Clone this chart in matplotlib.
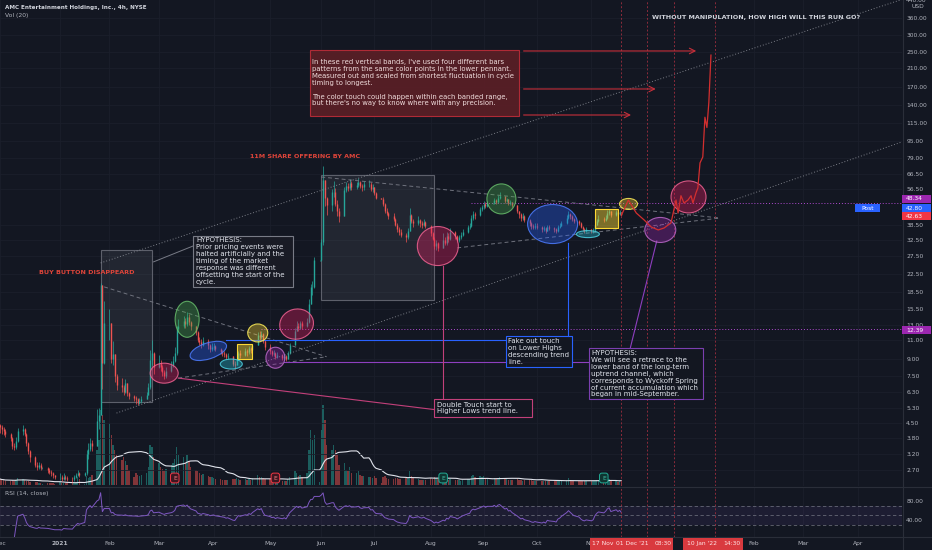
import numpy as np
import pandas as pd
import matplotlib
matplotlib.use("Agg")
import matplotlib.pyplot as plt
import matplotlib.dates as mdates
from matplotlib.patches import Ellipse, Rectangle
from matplotlib.lines import Line2D
from matplotlib.ticker import FixedLocator, NullLocator, FuncFormatter
from matplotlib.transforms import ScaledTranslation

plt.rcParams['font.family'] = ['DejaVu Sans']

# ---------------------------------------------------------------- data
TITLE = "AMC Entertainment Holdings, Inc., 4h, NYSE"
MONTHS = ['2020-12', '2021-01', '2021-02', '2021-03', '2021-04', '2021-05',
          '2021-06', '2021-07', '2021-08', '2021-09', '2021-10', '2021-11']
LAST_DAY = '2021-11-18'
FIRST_OPEN = 4.4

close_2020_12 = [4.3, 4.2, 4.1, 4.0, 3.8, 3.5, 3.45, 3.7, 4.1, 4.2, 4.0, 3.6, 3.3, 3.1, 2.85, 2.8, 2.85, 2.75, 2.75, 2.7, 2.65, 2.6, 2.55]
high_2020_12 = [4.45, 4.4, 4.3, 4.2, 4.05, 3.85, 3.6, 3.85, 4.25, 4.4, 4.25, 4.05, 3.65, 3.35, 3.15, 2.95, 2.95, 2.9, 2.78, 2.8, 2.75, 2.7, 2.65]
low_2020_12 = [4.05, 4.0, 3.95, 3.85, 3.7, 3.4, 3.35, 3.4, 3.65, 3.95, 3.9, 3.5, 3.2, 2.95, 2.8, 2.7, 2.72, 2.7, 2.72, 2.62, 2.58, 2.52, 2.48]
vol_2020_12 = [6, 5, 5, 4, 4, 5, 4, 5, 7, 6, 5, 4, 4, 3, 3, 3, 2, 2, 1, 2, 2, 2, 2]

close_2021_01 = [2.5, 2.5, 2.45, 2.5, 2.48, 2.46, 2.44, 2.5, 2.55, 2.6, 2.55, 2.6, 3.2, 3.4, 3.6, 3.5, 4.6, 4.9, 19.9, 8.6, 13.3]
high_2021_01 = [2.56, 2.6, 2.55, 2.6, 2.55, 2.52, 2.5, 2.55, 2.62, 2.7, 2.65, 2.65, 3.35, 3.6, 3.8, 3.75, 5.2, 5.3, 20.4, 16.5, 16.8]
low_2021_01 = [2.45, 2.42, 2.4, 2.42, 2.42, 2.4, 2.38, 2.4, 2.48, 2.52, 2.5, 2.52, 2.55, 3.05, 3.3, 3.3, 3.5, 4.2, 5.0, 6.5, 8.5]
vol_2021_01 = [1, 3, 2, 2, 2, 2, 2, 2, 3, 8, 6, 1, 9, 7, 8, 10, 35, 45, 75, 70, 65]

close_2021_02 = [13.3, 9.0, 9.5, 7.5, 6.8, 6.6, 6.3, 6.9, 6.2, 6.0, 5.9, 5.8, 5.6, 5.7, 5.8, 6.1, 6.6, 8.9, 9.6, 8.2]
high_2021_02 = [15.5, 13.0, 10.9, 9.2, 7.6, 7.3, 6.8, 7.2, 6.9, 6.3, 6.1, 6.0, 5.9, 5.9, 6.0, 6.3, 6.9, 9.9, 11.0, 9.7]
low_2021_02 = [11.0, 8.6, 8.4, 7.0, 6.4, 6.3, 6.1, 6.2, 6.0, 5.8, 5.7, 5.5, 5.45, 5.5, 5.6, 5.8, 6.1, 6.5, 8.4, 7.6]
vol_2021_02 = [62, 50, 40, 35, 30, 25, 28, 24, 20, 15, 8, 12, 10, 9, 10, 12, 18, 40, 38, 28]

close_2021_03 = [8.6, 8.2, 7.8, 7.5, 7.9, 8.4, 8.8, 9.6, 12.4, 12.9, 13.6, 13.1, 14.2, 13.4, 12.8, 12.0, 11.0, 10.8, 10.5, 10.9, 10.4, 10.0, 10.2]
high_2021_03 = [9.4, 8.9, 8.4, 8.0, 8.2, 8.8, 9.3, 10.2, 12.9, 13.8, 14.3, 14.0, 14.9, 14.6, 13.6, 12.9, 12.2, 11.4, 11.2, 11.4, 11.1, 10.6, 10.7]
low_2021_03 = [8.1, 7.9, 7.5, 7.2, 7.3, 7.8, 8.2, 8.7, 9.4, 12.0, 12.6, 12.6, 12.8, 13.0, 12.3, 11.7, 10.8, 10.4, 10.1, 10.3, 10.0, 9.7, 9.8]
vol_2021_03 = [22, 18, 16, 14, 16, 20, 22, 26, 38, 30, 28, 22, 30, 24, 18, 15, 14, 12, 10, 11, 9, 8, 8]

close_2021_04 = [10.3, 10.0, 9.7, 9.6, 9.5, 9.2, 9.3, 8.5, 8.4, 9.0, 9.6, 9.4, 9.8, 9.7, 10.1, 9.9, 10.4, 11.6, 11.4, 11.8, 10.9, 10.2]
high_2021_04 = [10.7, 10.4, 10.1, 9.9, 9.8, 9.6, 9.6, 9.3, 8.8, 9.2, 9.8, 9.9, 10.1, 10.0, 10.3, 10.2, 10.6, 12.0, 12.1, 12.2, 11.9, 11.0]
low_2021_04 = [9.9, 9.8, 9.5, 9.3, 9.2, 9.0, 9.0, 8.3, 8.1, 8.4, 8.9, 9.1, 9.3, 9.3, 9.5, 9.6, 9.8, 10.4, 11.0, 11.2, 10.7, 9.9]
vol_2021_04 = [7, 6, 6, 5, 5, 5, 5, 6, 6, 7, 6, 5, 6, 5, 6, 5, 7, 10, 8, 8, 7, 6]

close_2021_05 = [9.8, 9.5, 9.6, 9.2, 9.4, 9.1, 9.3, 9.0, 9.6, 10.4, 12.2, 12.9, 12.6, 13.2, 12.8, 13.4, 16.2, 19.5, 19.6, 26.1, 26.1]
high_2021_05 = [10.6, 9.9, 9.9, 9.7, 9.7, 9.5, 9.5, 9.4, 9.8, 10.7, 12.6, 13.5, 13.2, 13.6, 13.6, 14.0, 17.2, 20.2, 21.0, 27.2, 26.3]
low_2021_05 = [9.5, 9.3, 9.3, 9.0, 9.1, 8.9, 8.9, 8.8, 9.0, 9.5, 10.4, 12.1, 12.2, 12.4, 12.4, 12.7, 13.3, 16.2, 18.0, 19.4, 25.9]
vol_2021_05 = [6, 5, 5, 5, 5, 4, 4, 4, 6, 8, 14, 12, 9, 10, 8, 12, 35, 55, 45, 50, 3]

close_2021_06 = [32.0, 62.5, 51.3, 47.5, 55.0, 55.0, 48.0, 44.5, 42.0, 56.0, 58.5, 57.0, 60.5, 58.0, 59.0, 61.0, 58.5, 57.5, 59.5, 60.0, 56.5, 57.5]
high_2021_06 = [33.0, 72.6, 62.0, 52.0, 56.5, 61.5, 57.0, 50.0, 46.0, 57.5, 61.0, 60.5, 63.0, 61.5, 61.0, 63.5, 62.0, 60.0, 61.5, 62.5, 61.0, 59.5]
low_2021_06 = [26.0, 31.0, 47.0, 42.5, 44.5, 52.0, 47.0, 42.0, 39.5, 42.5, 54.5, 55.5, 56.0, 56.0, 56.5, 58.0, 57.0, 55.5, 56.0, 57.5, 55.5, 55.0]
vol_2021_06 = [55, 80, 65, 40, 35, 40, 35, 30, 20, 22, 15, 14, 18, 12, 12, 14, 10, 9, 9, 8, 8, 7]

close_2021_07 = [54.0, 51.5, 51.0, 48.0, 44.5, 43.5, 42.0, 41.0, 38.5, 36.5, 35.5, 34.5, 33.5, 36.0, 42.5, 40.0, 39.0, 40.5, 39.0, 38.5, 39.5, 38.0]
high_2021_07 = [58.0, 55.0, 51.5, 52.0, 48.5, 46.0, 44.0, 43.5, 41.5, 39.0, 37.5, 36.5, 35.0, 37.0, 46.0, 43.0, 41.0, 42.0, 41.0, 40.0, 41.0, 40.0]
low_2021_07 = [53.0, 50.5, 50.5, 47.0, 43.5, 42.5, 41.0, 40.0, 38.0, 35.5, 34.5, 33.5, 32.0, 33.0, 36.0, 39.0, 37.5, 38.5, 37.5, 37.0, 38.0, 37.0]
vol_2021_07 = [9, 7, 2, 8, 9, 7, 6, 6, 7, 7, 6, 6, 7, 8, 14, 9, 7, 6, 5, 5, 5, 5]

close_2021_08 = [35.0, 33.0, 30.5, 31.5, 30.0, 32.5, 31.5, 34.0, 33.0, 35.5, 34.0, 32.5, 33.5, 34.5, 35.5, 37.5, 38.0, 41.5, 43.0, 42.5, 45.5, 46.5]
high_2021_08 = [38.5, 35.5, 33.5, 32.5, 32.0, 35.0, 33.5, 35.5, 35.0, 37.0, 36.0, 34.5, 34.5, 35.5, 36.5, 38.5, 39.0, 42.5, 44.5, 44.0, 46.5, 47.5]
low_2021_08 = [34.0, 32.5, 29.5, 29.2, 29.0, 29.8, 30.8, 31.0, 32.0, 32.5, 33.0, 31.8, 32.0, 33.0, 34.0, 35.0, 36.5, 37.5, 40.5, 41.0, 42.0, 44.5]
vol_2021_08 = [7, 6, 8, 7, 6, 8, 6, 6, 5, 6, 5, 5, 5, 4, 5, 6, 6, 9, 10, 8, 9, 8]

close_2021_09 = [48.0, 47.0, 48.5, 48.5, 50.0, 49.0, 51.5, 52.5, 49.5, 50.5, 48.5, 49.0, 47.5, 44.5, 43.0, 41.5, 42.0, 40.5, 39.0, 38.0, 37.5, 38.0]
high_2021_09 = [49.5, 49.0, 49.5, 48.8, 51.5, 50.5, 53.0, 54.5, 52.5, 51.5, 50.5, 50.0, 49.0, 46.0, 44.5, 43.5, 43.5, 42.5, 41.0, 39.5, 38.8, 39.0]
low_2021_09 = [45.5, 46.0, 46.5, 48.2, 48.0, 48.0, 48.5, 50.5, 48.5, 49.0, 47.5, 47.5, 46.5, 43.5, 41.5, 40.0, 40.5, 39.5, 38.0, 36.8, 36.5, 36.8]
vol_2021_09 = [9, 6, 6, 1, 7, 6, 7, 8, 7, 6, 5, 5, 5, 6, 5, 5, 4, 5, 5, 5, 4, 4]

close_2021_10 = [37.5, 36.5, 37.0, 36.0, 37.5, 37.0, 36.5, 36.0, 37.5, 38.0, 39.0, 41.5, 43.0, 42.0, 41.0, 40.0, 39.0, 37.5, 36.5, 36.0, 36.5]
high_2021_10 = [39.0, 38.0, 38.0, 37.5, 38.5, 38.5, 37.5, 37.0, 38.5, 39.0, 40.0, 42.5, 44.5, 43.5, 42.5, 41.5, 40.5, 39.5, 38.0, 37.0, 37.5]
low_2021_10 = [36.5, 35.5, 35.8, 35.2, 35.8, 36.2, 35.5, 35.0, 35.5, 37.0, 37.8, 38.8, 41.0, 40.8, 40.0, 39.0, 38.2, 37.0, 35.8, 35.3, 35.5]
vol_2021_10 = [4, 4, 4, 4, 4, 4, 4, 4, 4, 4, 4, 5, 7, 5, 4, 4, 4, 4, 4, 4, 4]

close_2021_11 = [35.8, 36.3, 38.5, 40.0, 41.0, 40.5, 41.5, 43.5, 44.5, 42.5, 44.0, 43.0, 44.0, 42.63]
high_2021_11 = [36.8, 37.0, 39.0, 41.0, 42.5, 41.8, 42.5, 45.0, 45.5, 44.8, 45.0, 44.5, 45.0, 44.3]
low_2021_11 = [35.0, 35.3, 36.0, 38.2, 39.5, 39.5, 40.0, 41.0, 42.8, 41.8, 42.0, 42.2, 42.5, 42.2]
vol_2021_11 = [4, 4, 4, 5, 5, 4, 4, 6, 6, 4, 4, 3, 4, 4]

# axis labels
PRICE_TICKS = [360, 300, 250, 210, 170, 140, 115, 95, 79, 66.5, 56.5, 38.5, 32.5,
               27.5, 22.5, 18.5, 15.5, 13, 11, 9, 7.5, 6.3, 5.3, 4.5, 3.8, 3.2, 2.7]
TIME_TICKS = ['2020-12-01', '2021-01-04', '2021-02-01', '2021-03-01', '2021-04-01',
              '2021-05-03', '2021-06-01', '2021-07-01', '2021-08-02', '2021-09-01',
              '2021-10-01', '2021-11-01', '2022-02-01', '2022-03-01', '2022-04-01']
TIME_LABELS = ['Dec', '2021', 'Feb', 'Mar', 'Apr', 'May', 'Jun', 'Jul', 'Aug', 'Sep',
               'Oct', 'Nov', 'Feb', 'Mar', 'Apr']
RSI_TICKS = [80, 40]
EARNINGS = [('2021-03-10', 'r'), ('2021-05-06', 'r'), ('2021-08-09', 'g'), ('2021-11-08', 'g')]

# drawings (date, price)
CHANNEL_UPPER = [('2021-01-27', 25.4), ('2022-05-11', 484)]
CHANNEL_LOWER = [('2021-02-05', 5.0), ('2022-05-11', 104)]
PENNANT1_HIGHS = [('2021-01-29', 19.6), ('2021-06-04', 9.2)]
PENNANT1_LOWS = [('2021-03-12', 7.3), ('2021-06-04', 9.2)]
PENNANT2_HIGHS = [('2021-06-01', 64.4), ('2022-01-13', 41.3)]
PENNANT2_LOWS = [('2021-08-17', 29.9), ('2022-01-13', 41.3)]
LEVEL_A = ('2021-08-25', 48.34)
LEVEL_B = ('2021-04-28', 12.39)
BLUE_LINKS = [[('2021-04-08', 11.0), ('2021-09-14', 11.0)],
              [('2021-10-19', 31.5), ('2021-10-19', 11.4)]]
PURPLE_LINKS = [[('2021-05-11', 8.7), ('2021-10-31', 8.7)],
                [('2021-11-23', 10.1), ('2021-12-08', 32.2)]]
PINK_LINKS = [[('2021-08-09', 24.6), ('2021-08-09', 5.83)],
              [('2021-03-12', 7.3), ('2021-08-05', 5.18)]]
GREY_LINK = [('2021-02-26', 25.7), ('2021-03-22', 30.9)]
GREY_BOXES = [('2021-01-27', '2021-02-25', 5.64, 29.2), ('2021-06-01', '2021-08-04', 17.0, 65.8)]
YELLOW_BOXES = [('2021-04-14', '2021-04-23', 9.0, 10.6), ('2021-11-03', '2021-11-16', 37.1, 45.5)]
ARROWS = [('2021-09-22', '2021-12-31 22:00', 252), ('2021-09-22', '2021-12-09', 167),
          ('2021-09-22', '2021-11-25', 126)]
BAND_LINES = ['2021-11-18', '2021-12-02 12:00', '2021-12-17 18:00', '2022-01-10']
ELLIPSES = [('2021-03-04', 7.7, 28, 20, 0, 'pink'), ('2021-03-17', 13.8, 24, 36, 0, 'green'),
            ('2021-03-29', 9.8, 38, 16, 18, 'blue'), ('2021-04-11', 8.5, 22, 10, 0, 'teal'),
            ('2021-04-26', 11.9, 20, 18, 0, 'yellow'), ('2021-05-06', 9.1, 19, 21, 0, 'purple'),
            ('2021-05-18', 13.1, 34, 30, 15, 'pink'), ('2021-08-06', 30.5, 41, 39, 0, 'pink'),
            ('2021-09-11', 50.8, 29, 30, 0, 'green'), ('2021-10-10', 38.7, 50, 39, 0, 'blue'),
            ('2021-10-30', 34.7, 23, 7, 0, 'teal'), ('2021-11-22', 48.1, 18, 11, 0, 'yellow'),
            ('2021-12-10', 36.3, 31, 25, 0, 'purple'), ('2021-12-26', 51.9, 35, 32, 0, 'pink')]
PROJ_DATES = ['2021-11-18', '2021-11-21 22:00', '2021-11-26 10:00', '2021-11-30 22:00', '2021-12-04 20:00',
              '2021-12-08 20:00', '2021-12-12 05:00', '2021-12-16 02:00', '2021-12-18 22:00',
              '2021-12-20 02:00', '2021-12-21 17:00', '2021-12-23 10:00', '2021-12-25 17:00',
              '2021-12-27 10:00', '2021-12-28 12:00', '2021-12-30 05:00', '2021-12-31 07:00',
              '2022-01-01 12:00', '2022-01-03 02:00', '2022-01-04 07:00', '2022-01-05 10:00',
              '2022-01-06 12:00', '2022-01-07 17:00']
PROJ_PRICES = [42.6, 50.2, 43.6, 40.4, 37.5, 36.3, 37.1, 39.2, 50.2, 43.6, 52.6, 48.6, 50.2,
               52.6, 48.6, 54.2, 57.2, 75, 80, 123, 110, 144, 241]

# ---------------------------------------------------------------- styles
BG = '#131722'
GRID = '#1b1f2b'
TXT = '#b2b5be'
UP, DN = '#26a69a', '#ef5350'
RED = '#e0453a'
ECOL = {'pink': ('#e91e63', '#f06292'), 'green': ('#4caf50', '#66bb6a'),
        'blue': ('#2962ff', '#4d7cff'), 'teal': ('#26c6da', '#4dd0e1'),
        'yellow': ('#fdd835', '#ffee58'), 'purple': ('#9c27b0', '#ba68c8')}

W, H = 932, 550
PANE_R, MAIN_B, RSI_B = 902, 486, 537

fig = plt.figure(figsize=(W / 100, H / 100), dpi=100, facecolor=BG)


def rect_px(x0, y0, x1, y1):
    return [x0 / W, 1 - y1 / H, (x1 - x0) / W, (y1 - y0) / H]


def D(s):
    return mdates.date2num(pd.Timestamp(s))


ax_v = fig.add_axes(rect_px(0, 0, PANE_R, MAIN_B), facecolor=BG)
ax = fig.add_axes(rect_px(0, 0, PANE_R, MAIN_B), sharex=ax_v)
ax.patch.set_visible(False)
ax_r = fig.add_axes(rect_px(0, MAIN_B + 1, PANE_R, RSI_B), sharex=ax_v, facecolor=BG)
for a in (ax, ax_v, ax_r):
    for s in a.spines.values():
        s.set_visible(False)

# ---------------------------------------------------------------- series
dates, C, Hh, L, V = [], [], [], [], []
for m in MONTHS:
    key = m.replace('-', '_')
    c = globals()['close_' + key]
    bd = pd.bdate_range(m + '-01', pd.Period(m).end_time.normalize())
    bd = bd[bd <= pd.Timestamp(LAST_DAY)]
    idx = np.round(np.linspace(0, len(bd) - 1, len(c))).astype(int)
    dates.extend(bd[idx])
    C.extend(c)
    Hh.extend(globals()['high_' + key])
    L.extend(globals()['low_' + key])
    V.extend(globals()['vol_' + key])
x = mdates.date2num(pd.DatetimeIndex(dates))
C = np.array(C, float)
O = np.r_[FIRST_OPEN, C[:-1]]
Hh = np.maximum.reduce([np.array(Hh, float), O, C])
L = np.minimum.reduce([np.array(L, float), O, C])
V = np.array(V, float)
up = C >= O
col = np.where(up, UP, DN)

ax.set_xlim(D('2020-12-03 10:00'), D('2022-04-25 22:00'))
ax.set_yscale('log')
ax.set_ylim(2.27, 437.6)
ax_v.set_ylim(-1, MAIN_B - 1)
ax_r.set_ylim(4.2, 109.5)

# grid
for t in TIME_TICKS:
    ax_v.axvline(D(t), color=GRID, lw=0.6, zorder=0)
    ax_r.axvline(D(t), color=GRID, lw=0.6, zorder=0)
for p in PRICE_TICKS:
    ax.axhline(p, color=GRID, lw=0.6, zorder=0)

# volume
vcol = [matplotlib.colors.to_rgba(cc, 0.5) for cc in col]
ax_v.bar(x, V, width=0.8, color=vcol, zorder=2)
ax_v.plot(x, pd.Series(V).rolling(20, min_periods=1).mean(), color='#e0e3eb', lw=0.8, zorder=3)

# candles
ax.vlines(x, L, Hh, colors=col, lw=0.5, zorder=4)
ax.vlines(x, np.minimum(O, C), np.maximum(O, C), colors=col, lw=1.0, zorder=4)

# RSI (14) with Wilder-style smoothing
delta = pd.Series(np.r_[FIRST_OPEN, C]).diff().iloc[1:].reset_index(drop=True)
gain = delta.clip(lower=0).ewm(alpha=1 / 14, adjust=True, min_periods=6).mean()
loss = (-delta).clip(lower=0).ewm(alpha=1 / 14, adjust=True, min_periods=6).mean()
rsi = 100 * gain / (gain + loss)
ax_r.axhspan(30, 70, color='#7e57c2', alpha=0.1, lw=0)
for lv in (70, 50, 30):
    ax_r.axhline(lv, color='#787b86', lw=0.6, ls=(0, (4, 3)), alpha=0.8)
ax_r.plot(x, rsi, color='#7e57c2', lw=0.7)

# ---------------------------------------------------------------- ticks
ax.yaxis.set_major_locator(FixedLocator(PRICE_TICKS))
ax.yaxis.set_minor_locator(NullLocator())
ax.yaxis.set_major_formatter(FuncFormatter(lambda v, p: f'{v:.2f}'))
ax.yaxis.tick_right()
ax.tick_params(axis='y', length=0, pad=3, labelsize=4.3, labelcolor=TXT)
ax.tick_params(axis='x', bottom=False, labelbottom=False)
ax_v.set_yticks([])
ax_v.tick_params(axis='x', bottom=False, labelbottom=False)
ax_r.yaxis.tick_right()
ax_r.set_yticks(RSI_TICKS)
ax_r.set_yticklabels([f'{v:.2f}' for v in RSI_TICKS])
ax_r.tick_params(axis='y', length=0, pad=3, labelsize=4.3, labelcolor=TXT)
ax_r.set_xticks([D(t) for t in TIME_TICKS])
ax_r.set_xticklabels(TIME_LABELS)
ax_r.tick_params(axis='x', length=0, pad=3, labelsize=4.3, labelcolor=TXT)
for lbl in ax_r.get_xticklabels():
    if lbl.get_text() == '2021':
        lbl.set_fontweight('bold')

# ---------------------------------------------------------------- drawings


def seg(a, pts, **kw):
    a.plot([D(p[0]) for p in pts], [p[1] for p in pts], **kw)


dotted = dict(color='#9598a1', lw=0.7, ls=(0, (1, 2)), alpha=0.8, zorder=5)
dashed = dict(color='#787b86', lw=0.7, ls=(0, (4, 3)), alpha=0.9, zorder=5)
seg(ax, CHANNEL_UPPER, **dotted)
seg(ax, CHANNEL_LOWER, **dotted)
for pts in (PENNANT1_HIGHS, PENNANT1_LOWS, PENNANT2_HIGHS, PENNANT2_LOWS):
    seg(ax, pts, **dashed)
for d0, lv in (LEVEL_A, LEVEL_B):
    ax.plot([D(d0), D('2022-06-01')], [lv, lv], color='#b04ad0', lw=0.7, ls=(0, (1, 2)), zorder=5)
for pts in BLUE_LINKS:
    seg(ax, pts, color='#2962ff', lw=0.8, zorder=5)
for pts in PURPLE_LINKS:
    seg(ax, pts, color='#8e3fbf', lw=0.8, zorder=5)
for pts in PINK_LINKS:
    seg(ax, pts, color='#c2407a', lw=0.8, zorder=5)
seg(ax, GREY_LINK, color='#787b86', lw=0.7, zorder=5)

for d0, d1, p0, p1 in GREY_BOXES:
    ax.add_patch(Rectangle((D(d0), p0), D(d1) - D(d0), p1 - p0, facecolor=(0.58, 0.6, 0.63, 0.12),
                           edgecolor='#5d606b', lw=0.8, zorder=3))
for d0, d1, p0, p1 in YELLOW_BOXES:
    ax.add_patch(Rectangle((D(d0), p0), D(d1) - D(d0), p1 - p0, facecolor=(0.99, 0.85, 0.2, 0.45),
                           edgecolor='#fdd835', lw=0.8, zorder=6))

for d in BAND_LINES:
    for a in (ax, ax_r):
        a.axvline(D(d), color='#8c2b3b', lw=0.7, ls=(0, (2, 2)), zorder=5)

for d0, d1, p in ARROWS:
    ax.annotate('', xy=(D(d1), p), xytext=(D(d0), p),
                arrowprops=dict(arrowstyle='->', color='#c62f3a', lw=0.8, mutation_scale=10), zorder=6)

for d, p, w, h, ang, ck in ELLIPSES:
    fc, ec = ECOL[ck]
    tr = fig.dpi_scale_trans + ScaledTranslation(D(d), p, ax.transData)
    ax.add_patch(Ellipse((0, 0), w / 100, h / 100, angle=ang, transform=tr,
                         facecolor=matplotlib.colors.to_rgba(fc, 0.35),
                         edgecolor=matplotlib.colors.to_rgba(ec, 0.85), lw=0.8, zorder=6))

ax.plot([D(d) for d in PROJ_DATES], PROJ_PRICES, color='#d32f2f', lw=0.9, zorder=7)

for d, kind in EARNINGS:
    fc, ec, tc = ('#3d1620', '#f23645', '#f77c80') if kind == 'r' else ('#0f3531', '#22ab94', '#42bda8')
    ax_v.annotate('E', xy=(D(d), 1 - 478 / MAIN_B), xycoords=('data', 'axes fraction'),
                  ha='center', va='center', fontsize=4.3, color=tc, zorder=8,
                  bbox=dict(boxstyle='round,pad=0.4', fc=fc, ec=ec, lw=0.7))

# ---------------------------------------------------------------- figure-level text & boxes


def fbox(x0, y0, x1, y1, fc, ec, lw=0.8):
    fig.add_artist(Rectangle((x0 / W, 1 - y1 / H), (x1 - x0) / W, (y1 - y0) / H,
                             transform=fig.transFigure, facecolor=fc, edgecolor=ec, lw=lw, zorder=8))


def ftext(xp, yp, s, **kw):
    kw.setdefault('va', 'center')
    kw.setdefault('zorder', 9)
    fig.text(xp / W, 1 - yp / H, s, **kw)


def block(xp, y0, dy, lines, size=5.0, color='#e0e3eb'):
    for i, s in enumerate(lines):
        ftext(xp, y0 + i * dy, s, fontsize=size, color=color)


ftext(5, 8, TITLE, fontsize=4.1, color='#d1d4dc', fontweight='bold')
ftext(5, 16, 'Vol (20)', fontsize=4.3, color=TXT)
ftext(5, 494, 'RSI (14, close)', fontsize=4.3, color=TXT)

ftext(87, 273, 'BUY BUTTON DISAPPEARD', fontsize=4.6, color=RED, fontweight='bold', ha='center')
ftext(250, 157, '11M SHARE OFFERING BY AMC', fontsize=4.6, color=RED, fontweight='bold')
ftext(652, 18, 'WITHOUT MANIPULATION, HOW HIGH WILL THIS RUN GO?', fontsize=4.6, color='#d1d4dc',
      fontweight='bold')

fbox(193, 236, 293, 287, (0.10, 0.11, 0.15, 0.9), '#787b86')
block(196, 240, 7.0, ['HYPOTHESIS:', 'Prior pricing events were', 'halted artificially and the',
                      'timing of the market', 'response was different',
                      'offsetting the start of the', 'cycle.'])

fbox(310, 50, 519, 116, (0.36, 0.12, 0.15, 0.9), '#b02a36')
block(312, 62.3, 6.8, ["In these red vertical bands, I've used four different bars",
                       'patterns from the same color points in the lower pennant.',
                       'Measured out and scaled from shortest fluctuation in cycle',
                       'timing to longest.'], size=4.95, color='#f0dcdc')
block(312, 96.7, 6.8, ['The color touch could happen within each banded range,',
                       "but there's no way to know where with any precision."], size=4.95, color='#f0dcdc')

fbox(506, 336, 572, 367, (0.08, 0.09, 0.13, 0.95), '#2962ff')
block(508, 341, 6.9, ['Fake out touch', 'on Lower Highs', 'descending trend', 'line.'])

fbox(434, 399, 532, 417, (0.08, 0.09, 0.13, 0.95), '#c2407a')
block(437, 404.7, 6.5, ['Double Touch start to', 'Higher Lows trend line.'])

fbox(589, 348, 703, 399, (0.08, 0.09, 0.13, 0.95), '#7b3fb0')
block(591, 353, 6.9, ['HYPOTHESIS:', 'We will see a retrace to the', 'lower band of the long-term',
                      'uptrend channel, which', 'corresponds to Wyckoff Spring',
                      'of current accumulation which', 'began in mid-September.'])

# price axis extras and tags
ftext(906, 0, '440.00', fontsize=4.3, color=TXT, zorder=9)
ftext(911, 7, 'USD', fontsize=4.3, color=TXT)
for yc, label, fc in ((199, '48.34', '#9c27b0'), (208, '42.80', '#2962ff'),
                      (216, '42.63', '#f23645'), (330, '12.39', '#9c27b0')):
    fbox(902, yc - 4.2, 931, yc + 4.2, fc, 'none', lw=0)
    ftext(906, yc, label, fontsize=4.3, color='white')
fbox(855, 204, 880, 212, '#2962ff', 'none', lw=0)
ftext(867.5, 208, 'Post', fontsize=4.3, color='white', ha='center')

# time-axis date marks of the selected drawing
fbox(590, 538, 673, 550, '#d93a3f', 'none', lw=0)
fbox(683, 538, 743, 550, '#d93a3f', 'none', lw=0)
for xp, s in ((603, '17 Nov'), (632, "01 Dec '21"), (663, '08:30'), (702, "10 Jan '22"), (732, '14:30')):
    ftext(xp, 543.5, s, fontsize=4.3, color='#ffe5e5', ha='center')

# pane separators
for (x0, y0, x1, y1) in ((PANE_R + 0.5, 0, PANE_R + 0.5, H), (0, MAIN_B + 0.5, W, MAIN_B + 0.5),
                         (0, RSI_B, W, RSI_B)):
    fig.add_artist(Line2D([x0 / W, x1 / W], [1 - y0 / H, 1 - y1 / H], transform=fig.transFigure,
                          color='#2a2e39', lw=0.8, zorder=7))

fig.savefig('out.png', dpi=100, facecolor=BG)
